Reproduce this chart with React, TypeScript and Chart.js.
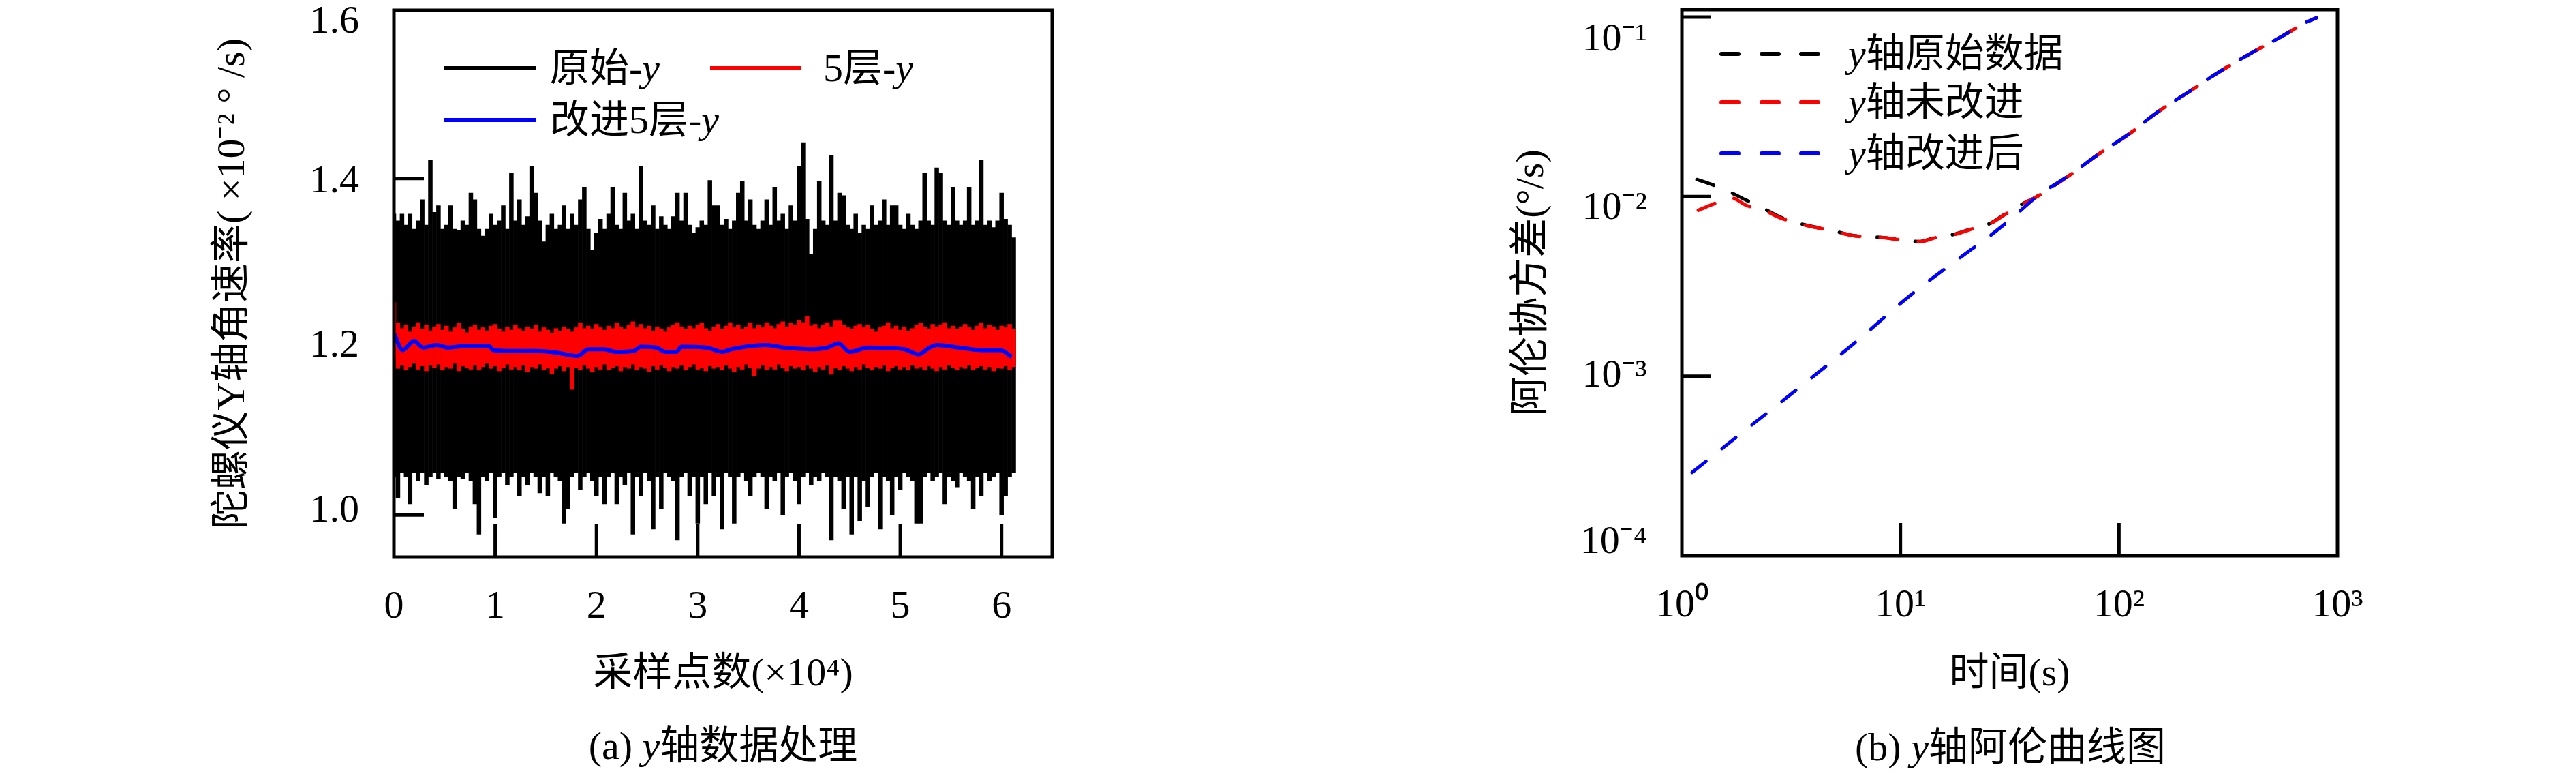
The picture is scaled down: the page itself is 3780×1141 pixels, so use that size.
import { useEffect, useRef } from 'react';
import { Chart, registerables } from 'chart.js';

Chart.register(...registerables);

const MIXED = '"Liberation Serif", "Noto Sans CJK SC", serif';
const NUM_SIZE = 58;
const TEXT_SIZE = 58;

// ---------- (a) y-axis data processing ----------
// envelope columns, one every 0.04 ×10^4 samples
const sampleStep = 0.04;

const rawHigh = [
  1.358, 1.35, 1.358, 1.345, 1.358, 1.34, 1.35, 1.375, 1.345, 1.422,
  1.36, 1.368, 1.34, 1.345, 1.368, 1.34, 1.339, 1.35, 1.345, 1.383,
  1.375, 1.34, 1.332, 1.34, 1.358, 1.345, 1.35, 1.368, 1.34, 1.407,
  1.35, 1.375, 1.345, 1.355, 1.415, 1.383, 1.35, 1.325, 1.345, 1.358,
  1.34, 1.345, 1.368, 1.34, 1.358, 1.345, 1.375, 1.39, 1.34, 1.315,
  1.335, 1.352, 1.34, 1.358, 1.39, 1.345, 1.34, 1.383, 1.35, 1.358,
  1.34, 1.415, 1.35, 1.345, 1.368, 1.34, 1.355, 1.345, 1.34, 1.355,
  1.383, 1.35, 1.383, 1.345, 1.335, 1.342, 1.35, 1.345, 1.398, 1.368,
  1.368, 1.345, 1.352, 1.34, 1.35, 1.383, 1.397, 1.35, 1.375, 1.345,
  1.34, 1.35, 1.375, 1.345, 1.39, 1.35, 1.358, 1.34, 1.368, 1.35,
  1.415, 1.443, 1.352, 1.31, 1.34, 1.397, 1.35, 1.345, 1.428, 1.35,
  1.383, 1.38, 1.345, 1.34, 1.358, 1.335, 1.345, 1.34, 1.368, 1.345,
  1.35, 1.375, 1.345, 1.368, 1.368, 1.345, 1.34, 1.358, 1.345, 1.34,
  1.35, 1.407, 1.35, 1.345, 1.413, 1.407, 1.35, 1.345, 1.39, 1.35,
  1.345, 1.35, 1.39, 1.345, 1.35, 1.422, 1.345, 1.35, 1.342, 1.35,
  1.383, 1.352, 1.345, 1.33,
];

const rawLow = [
  1.045, 1.02, 1.05, 1.045, 1.013, 1.05, 1.04, 1.05, 1.036, 1.045,
  1.05, 1.043, 1.05, 1.045, 1.04, 1.007, 1.045, 1.043, 1.05, 1.04,
  1.013, 0.977, 1.045, 1.04, 1.05, 0.997, 1.045, 1.05, 1.036, 1.045,
  1.05, 1.023, 1.045, 1.036, 1.05, 1.045, 1.026, 1.045, 1.023, 1.05,
  1.045, 1.04, 0.99, 1.007, 1.045, 1.05, 1.03, 1.045, 1.05, 1.04,
  1.023, 1.045, 1.013, 1.045, 1.05, 1.013, 1.045, 1.036, 1.05, 0.977,
  1.045, 1.023, 1.05, 1.04, 0.983, 1.045, 1.007, 1.05, 1.045, 1.04,
  0.97, 1.045, 1.05, 1.023, 1.045, 0.99, 1.045, 1.013, 1.05, 1.023,
  1.045, 0.983, 1.05, 1.045, 0.99, 1.045, 1.05, 1.04, 1.023, 1.045,
  1.05, 1.045, 1.007, 1.045, 1.04, 1.05, 1.0, 1.045, 1.05, 1.04,
  1.013, 1.045, 1.05, 1.036, 1.045, 1.04, 1.05, 1.045, 0.97, 1.045,
  1.04, 1.007, 1.045, 0.977, 1.045, 0.993, 1.04, 1.01, 1.045, 1.05,
  0.983, 1.045, 1.04, 1.0, 1.045, 1.03, 1.05, 1.045, 1.04, 0.99,
  0.99, 1.045, 1.05, 1.04, 1.045, 1.05, 1.013, 1.045, 1.04, 1.033,
  1.05, 1.045, 1.04, 1.007, 1.045, 1.023, 1.05, 1.04, 1.045, 1.05,
  1.0, 1.023, 1.045, 1.05,
];

const fiveHigh = [
  1.253, 1.228, 1.222, 1.226, 1.218, 1.224, 1.229, 1.221, 1.226, 1.219,
  1.224, 1.227, 1.22, 1.225, 1.218, 1.223, 1.228, 1.221, 1.217, 1.224,
  1.226, 1.22, 1.223, 1.219, 1.225, 1.227, 1.221, 1.218, 1.224, 1.22,
  1.226, 1.222, 1.219, 1.224, 1.221, 1.226, 1.218, 1.223, 1.22, 1.216,
  1.222, 1.219, 1.224, 1.221, 1.218, 1.223, 1.228, 1.222, 1.225, 1.221,
  1.227, 1.223, 1.22, 1.225, 1.222, 1.228, 1.224, 1.221, 1.226, 1.23,
  1.223, 1.227, 1.222, 1.225, 1.219, 1.224, 1.221, 1.218, 1.223, 1.226,
  1.229, 1.224, 1.221, 1.225, 1.222, 1.226, 1.228, 1.222, 1.219, 1.224,
  1.227, 1.221, 1.225, 1.229, 1.223, 1.226, 1.221, 1.224, 1.228, 1.222,
  1.226, 1.223, 1.229, 1.225, 1.222, 1.227, 1.23, 1.224, 1.228, 1.226,
  1.232, 1.229, 1.236, 1.225, 1.227, 1.222, 1.226, 1.229, 1.224, 1.231,
  1.231, 1.226, 1.223, 1.221, 1.225, 1.227, 1.223, 1.226, 1.221, 1.218,
  1.223, 1.225, 1.229, 1.222, 1.225, 1.22, 1.224, 1.219, 1.222, 1.226,
  1.228, 1.224, 1.221, 1.227, 1.224, 1.226, 1.229, 1.222, 1.225, 1.221,
  1.224, 1.227, 1.223, 1.22, 1.225, 1.228, 1.222, 1.226, 1.224, 1.22,
  1.225, 1.223, 1.227, 1.221,
];

const fiveLow = [
  1.185, 1.174, 1.178, 1.172, 1.176, 1.18, 1.173, 1.177, 1.171, 1.178,
  1.175, 1.179, 1.172, 1.176, 1.174, 1.18, 1.171, 1.177, 1.175, 1.173,
  1.178, 1.172, 1.176, 1.18, 1.174, 1.177, 1.171, 1.175, 1.179, 1.173,
  1.176, 1.172, 1.178, 1.17, 1.176, 1.174, 1.179, 1.172, 1.175, 1.168,
  1.174, 1.177, 1.171, 1.176, 1.149, 1.175, 1.172, 1.178, 1.174, 1.17,
  1.176, 1.173, 1.179, 1.172, 1.175, 1.177, 1.171, 1.176, 1.174, 1.179,
  1.172, 1.176, 1.174, 1.17, 1.177, 1.173, 1.178, 1.175, 1.171, 1.176,
  1.174, 1.178, 1.172, 1.176, 1.179, 1.173, 1.175, 1.171, 1.177, 1.174,
  1.176, 1.172, 1.178, 1.174, 1.17, 1.176, 1.173, 1.179, 1.175, 1.165,
  1.174, 1.178, 1.172, 1.176, 1.173, 1.179, 1.175, 1.171, 1.177, 1.174,
  1.176, 1.172, 1.178, 1.174, 1.17, 1.176, 1.173, 1.178, 1.167, 1.175,
  1.172, 1.177, 1.174, 1.171, 1.176, 1.173, 1.179, 1.175, 1.172, 1.176,
  1.174, 1.178, 1.171, 1.175, 1.177, 1.173, 1.176, 1.172, 1.178, 1.174,
  1.176, 1.172, 1.177, 1.174, 1.171, 1.176, 1.173, 1.178, 1.175, 1.172,
  1.176, 1.174, 1.178, 1.172, 1.175, 1.177, 1.173, 1.176, 1.171, 1.175,
  1.174, 1.177, 1.172, 1.176,
];

const improvedX = [
  0.0, 0.087, 0.199, 0.289, 0.423, 0.535, 0.624, 0.736, 0.937, 0.982,
  1.183, 1.407, 1.608, 1.81, 1.92, 2.078, 2.19, 2.37, 2.436, 2.59,
  2.68, 2.79, 2.84, 3.085, 3.242, 3.33, 3.67, 3.85, 4.12, 4.28,
  4.39, 4.5, 4.684, 5.04, 5.18, 5.29, 5.36, 5.58, 5.81, 5.99, 6.1,
];
const improvedY = [
  1.216, 1.196, 1.207, 1.199, 1.202, 1.199, 1.2, 1.201, 1.201, 1.196,
  1.195, 1.195, 1.193, 1.189, 1.197, 1.197, 1.194, 1.195, 1.2, 1.199,
  1.194, 1.194, 1.2, 1.199, 1.194, 1.197, 1.202, 1.199, 1.197, 1.199,
  1.204, 1.194, 1.199, 1.197, 1.191, 1.199, 1.202, 1.199, 1.196, 1.196, 1.188,
];

const rateTicks = [1.0, 1.2, 1.4, 1.6];
const sampleTicks = [0, 1, 2, 3, 4, 5, 6];

// ---------- (b) Allan curves ----------
const rawTau = [
  1.172, 1.4, 1.66, 1.968, 2.344, 2.818, 3.388, 4.074, 4.898, 6.026,
  7.079, 8.511, 10.23, 12.3, 14.45, 17.78, 21.38, 25.7, 29.85, 35.73,
  42.2, 58.7, 81.7, 110.7, 149.6, 208.4, 290.1, 402.7, 559.8, 717.8, 799.8,
];
const rawAdev = [
  1.245e-2, 1.156e-2, 1.059e-2, 9.55e-3, 8.63e-3, 7.69e-3, 7.13e-3, 6.76e-3, 6.46e-3, 6.08e-3,
  5.98e-3, 5.9e-3, 5.73e-3, 5.62e-3, 5.92e-3, 6.18e-3, 6.64e-3, 7.08e-3, 7.94e-3, 9.02e-3,
  1.002e-2, 1.303e-2, 1.742e-2, 2.223e-2, 2.944e-2, 3.828e-2, 4.977e-2, 6.295e-2, 7.834e-2, 9.33e-2, 9.886e-2,
];
const plainTau = [
  1.189, 1.422, 1.679, 1.982, 2.344, 2.818, 3.388, 4.074, 4.898, 6.026,
  7.079, 8.511, 10.23, 12.3, 14.45, 17.78, 21.38, 25.7, 29.85, 35.73,
  42.2, 58.7, 81.7, 110.7, 149.6, 208.4, 290.1, 402.7, 559.8, 717.8, 799.8,
];
const plainAdev = [
  8.39e-3, 9.18e-3, 9.84e-3, 8.91e-3, 8.45e-3, 7.62e-3, 7.1e-3, 6.74e-3, 6.45e-3, 6.07e-3,
  5.96e-3, 5.89e-3, 5.72e-3, 5.61e-3, 5.9e-3, 6.16e-3, 6.62e-3, 7.06e-3, 7.9e-3, 8.98e-3,
  1.0e-2, 1.3e-2, 1.74e-2, 2.22e-2, 2.94e-2, 3.82e-2, 4.97e-2, 6.29e-2, 7.83e-2, 9.32e-2, 9.88e-2,
];
const improvedTau = [
  1.114, 1.778, 3.281, 6.13, 11.07, 20.84, 24.27, 32.8, 42.2, 58.7,
  81.7, 110.7, 149.6, 208.4, 290.1, 402.7, 559.8, 717.8, 799.8,
];
const improvedAdev = [
  2.91e-4, 4.58e-4, 8.24e-4, 1.52e-3, 2.81e-3, 5.02e-3, 5.73e-3, 7.69e-3, 1.002e-2, 1.303e-2,
  1.742e-2, 2.223e-2, 2.944e-2, 3.828e-2, 4.977e-2, 6.295e-2, 7.834e-2, 9.33e-2, 9.886e-2,
];

const tauTicks = [1, 10, 100, 1000];
const adevTicks = [1e-4, 1e-3, 1e-2, 1e-1];

const SUP: Record<string, string> = {
  '-': '⁻', '0': '⁰', '1': '¹', '2': '²', '3': '³', '4': '⁴',
  '5': '⁵', '6': '⁶', '7': '⁷', '8': '⁸', '9': '⁹',
};
const pow10Label = (v: number) =>
  '10' + String(Math.round(Math.log10(v))).split('').map((c) => SUP[c] ?? c).join('');

// inward tick marks, heavy frame and the y labels (the original has them
// slightly off their marks, so they are nudged a few pixels)
const framePlugin = {
  id: 'frame',
  beforeDatasetsDraw(chart: any, _args: any, opts: any) {
    const { ctx, chartArea: a, scales } = chart;
    ctx.save();
    ctx.strokeStyle = '#000';
    ctx.lineWidth = 5;
    ctx.beginPath();
    for (const v of opts.xMarks) {
      const px = scales.x.getPixelForValue(v);
      ctx.moveTo(px, a.bottom);
      ctx.lineTo(px, a.bottom - opts.xLen);
    }
    for (const v of opts.yMarks) {
      const py = scales.y.getPixelForValue(v);
      ctx.moveTo(a.left, py);
      ctx.lineTo(a.left + opts.yLen, py);
    }
    ctx.stroke();
    ctx.restore();
  },
  afterDatasetsDraw(chart: any) {
    const { ctx, chartArea: a } = chart;
    ctx.save();
    ctx.strokeStyle = '#000';
    ctx.lineWidth = 5;
    ctx.strokeRect(a.left, a.top, a.right - a.left, a.bottom - a.top);
    ctx.restore();
  },
  afterDraw(chart: any, _args: any, opts: any) {
    const { ctx, chartArea: a, scales } = chart;
    const s = scales.y;
    ctx.save();
    ctx.fillStyle = '#000';
    ctx.font = `${NUM_SIZE}px ${MIXED}`;
    ctx.textAlign = 'right';
    ctx.textBaseline = 'middle';
    s.ticks.forEach((t: any, i: number) => {
      const py = s.getPixelForValue(t.value) + (opts.yNudge[i] ?? 0);
      ctx.fillText(String(t.label), a.left - opts.yPad, py);
    });
    ctx.restore();
  },
};

const numFont = { family: MIXED, size: NUM_SIZE };
const textFont = { family: MIXED, size: TEXT_SIZE };

const noPad = (s: any) => {
  s.paddingTop = 0;
  s.paddingBottom = 0;
  s.paddingLeft = 0;
  s.paddingRight = 0;
};

function RatePanel(): React.JSX.Element {
  const canvasRef = useRef<HTMLCanvasElement>(null);

  useEffect(() => {
    if (!canvasRef.current) return;
    const nRaw = Math.min(rawHigh.length, rawLow.length);
    const nFive = Math.min(fiveHigh.length, fiveLow.length);
    const rawBars = rawHigh.slice(0, nRaw).map((h, i) => ({ x: i * sampleStep, y: [rawLow[i], h] }));
    const fiveBars = fiveHigh.slice(0, nFive).map((h, i) => ({ x: i * sampleStep, y: [fiveLow[i], h] }));
    const improved = improvedX.map((x, i) => ({ x, y: improvedY[i] }));

    const chart = new Chart(canvasRef.current, {
      type: 'bar',
      data: {
        datasets: [
          {
            label: '原始-y',
            data: rawBars as any,
            backgroundColor: '#000000',
            borderWidth: 0,
            barPercentage: 1.1,
            categoryPercentage: 1,
            grouped: false,
            order: 2,
          },
          {
            label: '5层-y',
            data: fiveBars as any,
            backgroundColor: '#ff0000',
            borderWidth: 0,
            barPercentage: 1.1,
            categoryPercentage: 1,
            grouped: false,
            order: 1,
          },
          {
            type: 'line',
            label: '改进5层-y',
            data: improved as any,
            borderColor: '#0000ff',
            borderWidth: 6,
            pointRadius: 0,
            cubicInterpolationMode: 'monotone',
            order: 0,
          } as any,
        ],
      },
      options: {
        animation: false,
        responsive: true,
        maintainAspectRatio: false,
        events: [],
        layout: { padding: { top: 15, right: 56, left: 0, bottom: 0 } },
        plugins: {
          legend: { display: false },
          tooltip: { enabled: false },
          frame: {
            xMarks: [1, 2, 3, 4, 5, 6],
            yMarks: [1.0, 1.2, 1.4],
            xLen: 49,
            yLen: 44,
            yPad: 51,
            yNudge: [-6, -1, 5, 18],
          },
        } as any,
        scales: {
          x: {
            type: 'linear',
            min: 0,
            max: 6.5,
            bounds: 'data',
            offset: false,
            grid: { display: false, drawTicks: false },
            border: { display: false },
            afterBuildTicks: (s: any) => {
              s.ticks = sampleTicks.map((value) => ({ value }));
            },
            afterFit: (s: any) => {
              s.height = 223;
              noPad(s);
            },
            ticks: {
              color: '#000',
              font: numFont,
              padding: 39,
              maxRotation: 0,
              autoSkip: false,
              callback: (v: any) => String(v),
            },
            title: {
              display: true,
              text: '采样点数(×10⁴)',
              color: '#000',
              font: textFont,
              padding: { top: 0, bottom: 15 },
            },
          },
          y: {
            type: 'linear',
            min: 0.95,
            max: 1.6,
            bounds: 'data',
            grid: { display: false, drawTicks: false },
            border: { display: false },
            afterBuildTicks: (s: any) => {
              s.ticks = rateTicks.map((value) => ({ value }));
            },
            afterFit: (s: any) => {
              s.width = 278;
              noPad(s);
            },
            ticks: {
              display: false,
              callback: (v: any) => Number(v).toFixed(1),
            },
            title: {
              display: true,
              text: '陀螺仪Y轴角速率( ×10⁻² ° /s)',
              color: '#000',
              font: textFont,
              padding: { top: 8, bottom: 0 },
            },
          },
        },
      },
      plugins: [framePlugin as any],
    });

    return () => {
      chart.destroy();
    };
  }, []);

  return (
    <div style={{ position: 'absolute', left: 300, top: 0, width: 1300, height: 1040 }}>
      <canvas ref={canvasRef} />
    </div>
  );
}

function AllanPanel(): React.JSX.Element {
  const canvasRef = useRef<HTMLCanvasElement>(null);

  useEffect(() => {
    if (!canvasRef.current) return;
    const pts = (xs: number[], ys: number[]) => xs.map((x, i) => ({ x, y: ys[i] }));
    const dashed = {
      borderWidth: 5,
      borderDash: [26, 30],
      borderCapStyle: 'round' as const,
      pointRadius: 0,
      cubicInterpolationMode: 'monotone' as const,
    };

    const chart = new Chart(canvasRef.current, {
      type: 'line',
      data: {
        datasets: [
          { label: 'y轴原始数据', data: pts(rawTau, rawAdev) as any, borderColor: '#000000', order: 2, ...dashed },
          { label: 'y轴未改进', data: pts(plainTau, plainAdev) as any, borderColor: '#ff0000', order: 1, ...dashed },
          { label: 'y轴改进后', data: pts(improvedTau, improvedAdev) as any, borderColor: '#0000ff', order: 0, ...dashed },
        ],
      },
      options: {
        animation: false,
        responsive: true,
        maintainAspectRatio: false,
        events: [],
        layout: { padding: { top: 14, right: 130, left: 0, bottom: 0 } },
        plugins: {
          legend: { display: false },
          tooltip: { enabled: false },
          frame: {
            xMarks: [10, 100],
            yMarks: [1e-3, 1e-2, 1e-1],
            xLen: 48,
            yLen: 43,
            yPad: 51,
            yNudge: [-19, 0, 17, 34],
          },
        } as any,
        scales: {
          x: {
            type: 'logarithmic',
            min: 1,
            max: 1000,
            bounds: 'data',
            grid: { display: false, drawTicks: false },
            border: { display: false },
            afterBuildTicks: (s: any) => {
              s.ticks = tauTicks.map((value) => ({ value }));
            },
            afterFit: (s: any) => {
              s.height = 225;
              noPad(s);
            },
            ticks: {
              color: '#000',
              font: numFont,
              padding: 39,
              maxRotation: 0,
              autoSkip: false,
              callback: (v: any) => pow10Label(Number(v)),
            },
            title: {
              display: true,
              text: '时间(s)',
              color: '#000',
              font: textFont,
              padding: { top: 0, bottom: 15 },
            },
          },
          y: {
            type: 'logarithmic',
            min: 1e-4,
            max: 0.11,
            bounds: 'data',
            grid: { display: false, drawTicks: false },
            border: { display: false },
            afterBuildTicks: (s: any) => {
              s.ticks = adevTicks.map((value) => ({ value }));
            },
            afterFit: (s: any) => {
              s.width = 308;
              noPad(s);
            },
            ticks: {
              display: false,
              callback: (v: any) => pow10Label(Number(v)),
            },
            title: {
              display: true,
              text: '阿伦协方差(°/s)',
              color: '#000',
              font: textFont,
              padding: { top: 54, bottom: 0 },
            },
          },
        },
      },
      plugins: [framePlugin as any],
    });

    return () => {
      chart.destroy();
    };
  }, []);

  return (
    <div style={{ position: 'absolute', left: 2160, top: 0, width: 1400, height: 1040 }}>
      <canvas ref={canvasRef} />
    </div>
  );
}

const textStyle: React.CSSProperties = {
  position: 'absolute',
  fontFamily: MIXED,
  fontSize: TEXT_SIZE,
  lineHeight: '66px',
  height: 66,
  color: '#000',
  whiteSpace: 'nowrap',
};

function Label({ left, cy, children }: { left: number; cy: number; children: React.ReactNode }) {
  return <div style={{ ...textStyle, left, top: cy - 33 }}>{children}</div>;
}

function Centered({ cx, cy, children }: { cx: number; cy: number; children: React.ReactNode }) {
  return (
    <div style={{ ...textStyle, left: cx - 500, width: 1000, textAlign: 'center', top: cy - 33 }}>{children}</div>
  );
}

function SolidKey({ left, cy, color }: { left: number; cy: number; color: string }) {
  return <div style={{ position: 'absolute', left, top: cy - 3, width: 134, height: 6, background: color }} />;
}

function DashKey({ left, cy, color }: { left: number; cy: number; color: string }) {
  return (
    <>
      {[0, 59, 117].map((dx) => (
        <div
          key={dx}
          style={{ position: 'absolute', left: left + dx, top: cy - 3, width: 31, height: 6, borderRadius: 3, background: color }}
        />
      ))}
    </>
  );
}

export default function App(): React.JSX.Element {
  return (
    <div style={{ position: 'relative', width: 3780, height: 1141, background: '#ffffff', overflow: 'hidden' }}>
      <style>{'body{margin:0;}'}</style>
      <RatePanel />
      <AllanPanel />

      {/* legend (a) */}
      <SolidKey left={652} cy={100} color="#000000" />
      <Label left={807} cy={100}>原始-<i>y</i></Label>
      <SolidKey left={1042} cy={100} color="#ff0000" />
      <Label left={1208} cy={100}>5层-<i>y</i></Label>
      <SolidKey left={652} cy={176} color="#0000ff" />
      <Label left={807} cy={176}>改进5层-<i>y</i></Label>

      {/* legend (b) */}
      <DashKey left={2523} cy={79} color="#000000" />
      <Label left={2712} cy={79}><i>y</i>轴原始数据</Label>
      <DashKey left={2523} cy={150} color="#ff0000" />
      <Label left={2712} cy={150}><i>y</i>轴未改进</Label>
      <DashKey left={2523} cy={225} color="#0000ff" />
      <Label left={2712} cy={225}><i>y</i>轴改进后</Label>

      <Centered cx={1061} cy={1094}>(a) <i>y</i>轴数据处理</Centered>
      <Centered cx={2950} cy={1096}>(b) <i>y</i>轴阿伦曲线图</Centered>
    </div>
  );
}
